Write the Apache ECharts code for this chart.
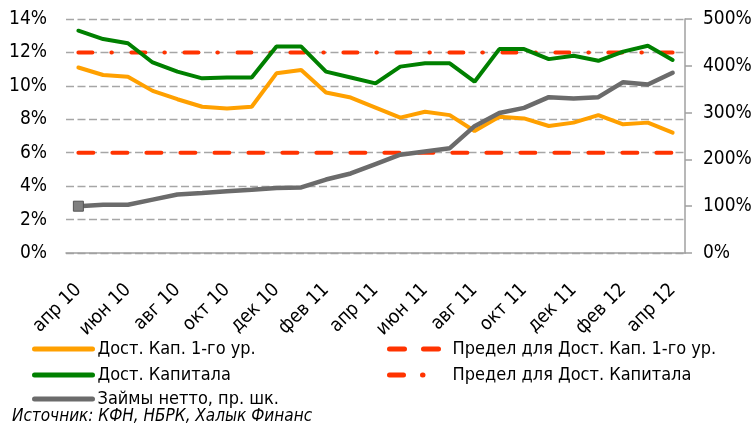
<!DOCTYPE html>
<html>
<head>
<meta charset="utf-8">
<script src="https://cdn.jsdelivr.net/npm/echarts@6/dist/echarts.min.js"></script>
<style>
  html, body { margin: 0; padding: 0; background: #fff; }
  #chart { width: 756px; height: 425px; }
</style>
</head>
<body>
<div id="chart"></div>
<script>
// месяцы
var months = ['апр 10', 'май 10', 'июн 10', 'июл 10', 'авг 10', 'сен 10', 'окт 10', 'ноя 10', 'дек 10',
  'янв 11', 'фев 11', 'мар 11', 'апр 11', 'май 11', 'июн 11', 'июл 11', 'авг 11', 'сен 11', 'окт 11',
  'ноя 11', 'дек 11', 'янв 12', 'фев 12', 'мар 12', 'апр 12'];

// левая шкала, %
var tier1 = [11.1, 10.65, 10.55, 9.7, 9.2, 8.75, 8.65, 8.75, 10.75, 10.95, 9.6, 9.3, 8.7,
  8.1, 8.45, 8.25, 7.3, 8.15, 8.05, 7.6, 7.8, 8.25, 7.7, 7.8, 7.2];
var capital = [13.3, 12.8, 12.55, 11.4, 10.85, 10.45, 10.5, 10.5, 12.35, 12.35, 10.85, 10.5, 10.15,
  11.15, 11.35, 11.35, 10.25, 12.2, 12.2, 11.6, 11.8, 11.5, 12.05, 12.4, 11.55];
var tier1Limit = [6, 6, 6, 6, 6, 6, 6, 6, 6, 6, 6, 6, 6, 6, 6, 6, 6, 6, 6, 6, 6, 6, 6, 6, 6];
var capitalLimit = [12, 12, 12, 12, 12, 12, 12, 12, 12, 12, 12, 12, 12, 12, 12, 12, 12, 12, 12, 12, 12, 12, 12, 12, 12];

// правая шкала, %
var loans = [100, 103, 103, 114, 125, 128, 132, 135, 139, 140, 157, 170, 190,
  210, 217, 224, 271, 299, 310, 333, 330, 333, 365, 360, 385];

var names = ['Дост. Кап. 1-го ур.', 'Дост. Капитала', 'Займы нетто, пр. шк.',
  'Предел для Дост. Кап. 1-го ур.', 'Предел для Дост. Капитала'];

var font = "'Liberation Sans Narrow', 'DejaVu Sans Condensed', sans-serif";
var red = '#ff3300';

// первая точка займов с квадратным маркером
var loansData = loans.map(function (v, i) {
  if (i == 0) {
    return { value: v, symbol: 'rect', symbolSize: 10,
      itemStyle: { color: '#808080', borderColor: '#555', borderWidth: 1 } };
  }
  return v;
});

function legendRow(name, left, top, w, pad) {
  return {
    data: [name], left: left, top: top, orient: 'vertical', padding: 0,
    itemWidth: w, itemHeight: 14, selectedMode: false,
    itemStyle: { opacity: 0 },
    lineStyle: { width: 5, cap: 'round' },
    textStyle: { fontFamily: font, fontSize: 18, color: '#000', lineHeight: 14, padding: [0, 0, 0, pad || 0] }
  };
}

var myChart = echarts.init(document.getElementById('chart'));
myChart.setOption({
  animation: false,
  grid: { left: 66, right: 71, top: 19, bottom: 172 },
  legend: [
    legendRow(names[0], 32, 340, 58),
    legendRow(names[1], 32, 366, 58),
    legendRow(names[2], 32, 390, 58),
    legendRow(names[3], 387, 340, 51, 7),
    legendRow(names[4], 387, 366, 51, 7)
  ],
  graphic: [{
    type: 'text', left: 12, top: 408,
    style: { text: 'Источник: КФН, НБРК, Халык Финанс', fontFamily: font, fontSize: 17,
      fontStyle: 'italic', fill: '#000' }
  }],
  xAxis: [{
    type: 'category',
    data: months,
    axisLine: { lineStyle: { color: '#a0a0a0', width: 1.5 } },
    axisTick: { interval: 0, length: 6, lineStyle: { color: '#a0a0a0', width: 1.5 } },
    axisLabel: { interval: 1, rotate: 45, margin: 34, fontFamily: font, fontSize: 19, color: '#000' }
  }, {
    type: 'category',
    data: months,
    position: 'bottom',
    axisLine: { show: false },
    axisTick: { interval: 1, length: 8, lineStyle: { color: '#a0a0a0', width: 1.5 } },
    axisLabel: { show: false }
  }],
  yAxis: [{
    type: 'value', min: 0, max: 14, interval: 2,
    axisLine: { show: false }, axisTick: { show: false },
    axisLabel: { formatter: '{value}%', margin: 19, fontFamily: font, fontSize: 19, color: '#000' },
    splitLine: { lineStyle: { color: '#a6a6a6', width: 1.3, type: [8, 3.5] } }
  }, {
    type: 'value', min: 0, max: 500, interval: 100, position: 'right',
    axisLine: { show: true, lineStyle: { color: '#a0a0a0', width: 1.5 } },
    axisTick: { show: true, length: 7, lineStyle: { color: '#a0a0a0', width: 1.5 } },
    axisLabel: { formatter: '{value}%', margin: 18, fontFamily: font, fontSize: 19, color: '#000' },
    splitLine: { show: false }
  }],
  series: [{
    name: names[3], type: 'line', data: tier1Limit, symbol: 'none',
    lineStyle: { color: red, width: 4, type: [15, 19], cap: 'round' },
    itemStyle: { color: red }
  }, {
    name: names[4], type: 'line', data: capitalLimit, symbol: 'none',
    lineStyle: { color: red, width: 4, type: [14, 19, 0.5, 19.5], cap: 'round' },
    itemStyle: { color: red }
  }, {
    name: names[0], type: 'line', data: tier1, symbol: 'none',
    lineStyle: { color: '#ffa000', width: 4, cap: 'round' },
    itemStyle: { color: '#ffa000' }
  }, {
    name: names[1], type: 'line', data: capital, symbol: 'none',
    lineStyle: { color: '#008000', width: 4, cap: 'round' },
    itemStyle: { color: '#008000' }
  }, {
    name: names[2], type: 'line', yAxisIndex: 1, data: loansData, symbol: 'none',
    lineStyle: { color: '#6b6b6b', width: 4.5, cap: 'round' },
    itemStyle: { color: '#6b6b6b' }
  }]
});
</script>
</body>
</html>
